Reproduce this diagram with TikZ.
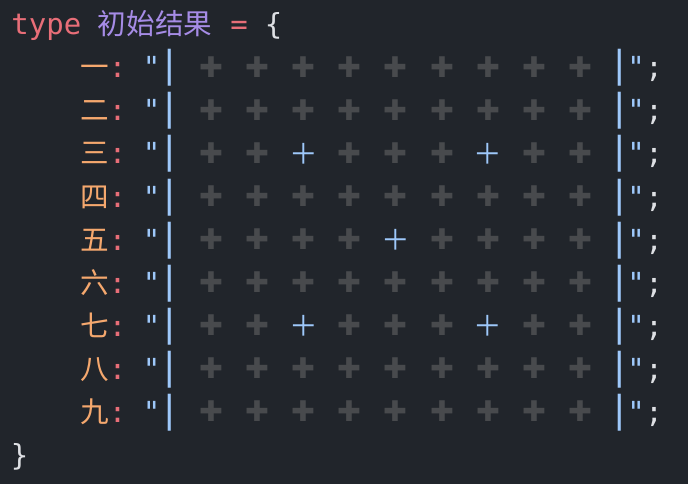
\documentclass[tikz,border=0pt]{standalone}
\usepackage{fontspec}
\newfontfamily\codefont{DejaVu Sans Mono}
\newfontfamily\cjkfont{Noto Sans CJK SC}
\newfontfamily\symfont{DejaVu Sans}
\definecolor{bg}{RGB}{33,37,43}
\definecolor{kw}{RGB}{232,110,120}
\definecolor{ent}{RGB}{166,140,230}
\definecolor{prop}{RGB}{245,168,110}
\definecolor{str}{RGB}{158,200,250}
\definecolor{txt}{RGB}{222,224,228}
\definecolor{dim}{RGB}{72,74,77}
\tikzset{
  tok/.style={inner sep=0, anchor=base, font=\codefont\fontsize{29}{29}\selectfont},
  cjk/.style={inner sep=0, anchor=base, font=\cjkfont\fontsize{28.6}{28.6}\selectfont},
  bar/.style={inner sep=0, anchor=base, text=str, font=\symfont\fontsize{37}{37}\selectfont},
  gplus/.style={inner sep=0, anchor=center, text=dim, font=\symfont\fontsize{28.5}{28.5}\selectfont},
  bplus/.style={inner sep=0, anchor=center, text=str, font=\cjkfont\fontsize{28.6}{28.6}\selectfont},
}
\begin{document}
\begin{tikzpicture}[x=1pt,y=-1pt]
\fill[bg] (0,0) rectangle (688,484);
\useasboundingbox (0,0) rectangle (688,484);
% header line
\node[tok, text=kw] (kwtype) at (46.3,35) {type};
\node[cjk, text=ent] (tname) at (155,35) {初始结果};
\node[tok, text=kw] (eq) at (239,35) {=};
\node[tok, text=txt] (lbrace) at (273.5,35) {\{};
% rows
\foreach \lab [count=\r from 0] in {一,二,三,四,五,六,七,八,九} {
  \pgfmathsetmacro\yc{68+43*\r}
  \pgfmathsetmacro\yb{\yc+10}
  \pgfmathsetmacro\yp{\yc-0.5}
  \node[cjk, text=prop] (lab\r) at (95,\yb) {\lab};
  \node[tok, text=kw] (colon\r) at (117.5,\yb) {:};
  \node[tok, text=str] (oq\r) at (151.5,\yb) {"};
  \node[bar] (lb\r) at (169.6,\yb) {|};
  \foreach \c in {0,...,8} {
    \pgfmathsetmacro\xc{211.5+46.1*\c}
    \pgfmathtruncatemacro\isblue{((\r==2||\r==6)&&(\c==2||\c==6))||(\r==4&&\c==4)}
    \ifnum\isblue=1
      \node[bplus] (p\r-\c) at (\xc,\yp) {＋};
    \else
      \node[gplus] (p\r-\c) at (\xc,\yp) {✚};
    \fi
  }
  \node[bar] (rb\r) at (619.7,\yb) {|};
  \node[tok, text=str] (cq\r) at (636,\yb) {"};
  \node[tok, text=txt] (semi\r) at (654,\yb) {;};
}
\node[tok, text=txt] (rbrace) at (19.5,465) {\}};
\end{tikzpicture}
\end{document}
